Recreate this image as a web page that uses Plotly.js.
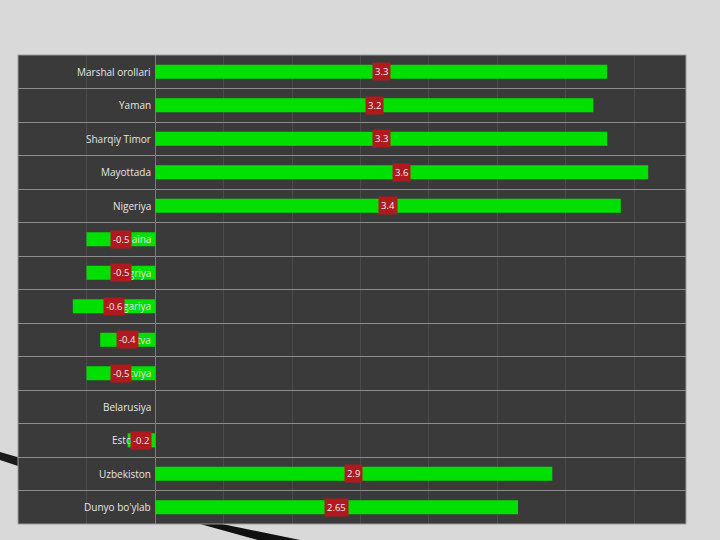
<!DOCTYPE html>
<html>
<head>
<meta charset="utf-8">
<script src="https://cdn.plot.ly/plotly-3.0.1.min.js"></script>
<style>html,body{margin:0;padding:0;background:#d9d9d9;}#chart{width:720px;height:540px;}</style>
</head>
<body>
<div id="chart"></div>
<script>
const categories = ["Marshal orollari","Yaman","Sharqiy Timor","Mayottada","Nigeriya","Ukraina","Vengriya","Bolgariya","Litva","Latviya","Belarusiya","Estoniya","Uzbekiston","Dunyo bo'ylab"];
const values = [3.3, 3.2, 3.3, 3.6, 3.4, -0.5, -0.5, -0.6, -0.4, -0.5, 0, -0.2, 2.9, 2.65];
const valueLabels = ["3.3","3.2","3.3","3.6","3.4","-0.5","-0.5","-0.6","-0.4","-0.5","","-0.2","2.9","2.65"];

const trace = {
  type: 'bar',
  orientation: 'h',
  y: categories,
  x: values,
  width: 0.42,
  marker: {color: '#00e000', line: {width: 0}},
  hoverinfo: 'skip'
};

const annotations = [];
categories.forEach((c, i) => {
  annotations.push({
    x: 0, y: c, xref: 'x', yref: 'y', text: c, showarrow: false,
    xanchor: 'right', yanchor: 'middle', xshift: -2,
    font: {family: 'Open Sans, sans-serif', size: 10, color: '#e6e6e6'}
  });
});
categories.forEach((c, i) => {
  if (valueLabels[i] === '') return;
  annotations.push({
    x: values[i] / 2, y: c, xref: 'x', yref: 'y', text: valueLabels[i], showarrow: false,
    xanchor: 'center', yanchor: 'middle',
    bgcolor: '#b0191e', borderpad: 2,
    font: {family: 'Open Sans, sans-serif', size: 9.5, color: '#f2f2f2'}
  });
});

function px(x){ return (x - 18) / 668; }
function py(y){ return (524 - y) / 469; }

const layout = {
  width: 720, height: 540,
  margin: {l: 18, r: 34, t: 55, b: 16, pad: 0},
  paper_bgcolor: '#d9d9d9',
  plot_bgcolor: '#3a3a3a',
  showlegend: false,
  xaxis: {
    range: [-1.0, 3.876],
    showticklabels: false,
    ticks: '',
    dtick: 0.5,
    showgrid: true,
    gridcolor: 'rgba(255,255,255,0.09)',
    zeroline: true,
    zerolinecolor: '#7a7a7a',
    zerolinewidth: 1,
    showline: false,
    fixedrange: true
  },
  yaxis: {
    type: 'category',
    autorange: 'reversed',
    showticklabels: false,
    ticks: '',
    tickson: 'boundaries',
    showgrid: true,
    gridcolor: '#8c8c8c',
    gridwidth: 1,
    showline: false,
    fixedrange: true
  },
  annotations: annotations,
  shapes: [
    {type: 'path', xref: 'paper', yref: 'paper', layer: 'above',
     path: `M ${px(0)} ${py(452)} L ${px(18)} ${py(457.3)} L ${px(18)} ${py(466)} L ${px(0)} ${py(460)} Z`,
     fillcolor: '#1a1a1a', line: {width: 0}},
    {type: 'path', xref: 'paper', yref: 'paper', layer: 'above',
     path: `M ${px(222)} ${py(524)} L ${px(300)} ${py(540)} L ${px(258)} ${py(540)} L ${px(200)} ${py(524)} Z`,
     fillcolor: '#111111', line: {width: 0}},
    {type: 'rect', xref: 'paper', yref: 'paper', layer: 'above',
     x0: 0, x1: 1, y0: 0, y1: 1, line: {color: '#9a9a9a', width: 1}}
  ]
};

Plotly.newPlot('chart', [trace], layout, {displayModeBar: false, staticPlot: true});
</script>
</body>
</html>
